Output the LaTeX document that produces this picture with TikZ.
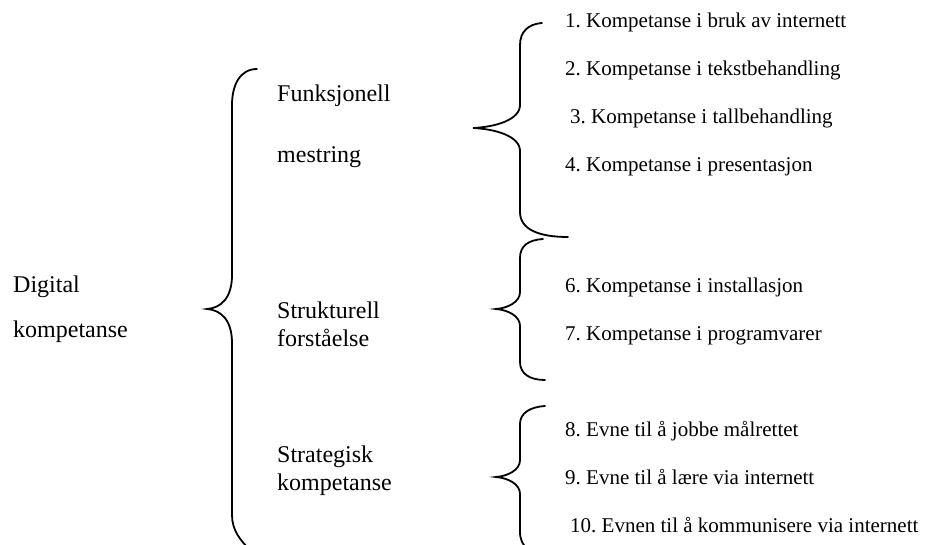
\documentclass[tikz,border=0pt]{standalone}
\usepackage{fontspec}
\setmainfont{Liberation Serif}
\usetikzlibrary{positioning}

\begin{document}
\begin{tikzpicture}[x=1pt, y=-1pt,
  headlabel/.style={anchor=base west, inner sep=0pt, font=\fontsize{24}{28}\selectfont},
  itemlabel/.style={anchor=base west, inner sep=0pt, font=\fontsize{21}{25}\selectfont\frenchspacing},
  bracket/.style={line width=1.8pt, black, line cap=round},
]
  \useasboundingbox (0,0) rectangle (926,545);

  % Root
  \node[headlabel] (dig1) at (13,293) {Digital};
  \node[headlabel] (dig2) at (13,337) {kompetanse};

  % Main brace
  \draw[bracket] (257,69) .. controls (240,69) and (232,85) .. (232,105)
    -- (232,275) .. controls (232,298) and (221,308) .. (207,309)
    .. controls (221,310) and (232,320) .. (232,343)
    -- (232,515) .. controls (232,530) and (240,540) .. (250,550);

  % Middle level
  \node[headlabel] (fun1) at (277,102) {Funksjonell};
  \node[headlabel] (fun2) at (277,163) {mestring};
  \node[headlabel] (str1) at (277,318) {Strukturell};
  \node[headlabel] (str2) at (277,346) {forståelse};
  \node[headlabel] (sta1) at (277,462) {Strategisk};
  \node[headlabel] (sta2) at (277,490) {kompetanse};

  % Brace: Funksjonell mestring
  \draw[bracket] (542,23) .. controls (528,24) and (520,32) .. (520,45)
    -- (520,105) .. controls (520,120) and (495,127) .. (473,128)
    .. controls (495,129) and (520,136) .. (520,151)
    -- (520,212) .. controls (520,230) and (540,237) .. (568,237);

  % Brace: Strukturell forstaelse
  \draw[bracket] (543,239) .. controls (528,240) and (520,246) .. (520,258)
    -- (520,292) .. controls (520,302) and (508,308) .. (496,309)
    .. controls (508,310) and (520,316) .. (520,326)
    -- (520,362) .. controls (520,374) and (530,380) .. (545,380);

  % Brace: Strategisk kompetanse
  \draw[bracket] (545,406) .. controls (530,407) and (520,413) .. (520,424)
    -- (520,460) .. controls (520,470) and (508,476) .. (496,477)
    .. controls (508,478) and (520,484) .. (520,494)
    -- (520,532) .. controls (520,540) and (523,545) .. (528,550);

  % Items
  \node[itemlabel] (it1) at (565,28) {1. Kompetanse i bruk av internett};
  \node[itemlabel] (it2) at (565,76) {2. Kompetanse i tekstbehandling};
  \node[itemlabel] (it3) at (570,124) {3. Kompetanse i tallbehandling};
  \node[itemlabel] (it4) at (565,172) {4. Kompetanse i presentasjon};
  \node[itemlabel] (it6) at (565,292) {6. Kompetanse i installasjon};
  \node[itemlabel] (it7) at (565,340) {7. Kompetanse i programvarer};
  \node[itemlabel] (it8) at (565,436) {8. Evne til å jobbe målrettet};
  \node[itemlabel] (it9) at (565,484) {9. Evne til å lære via internett};
  \node[itemlabel] (it10) at (570,532) {10. Evnen til å kommunisere via internett};
\end{tikzpicture}
\end{document}
